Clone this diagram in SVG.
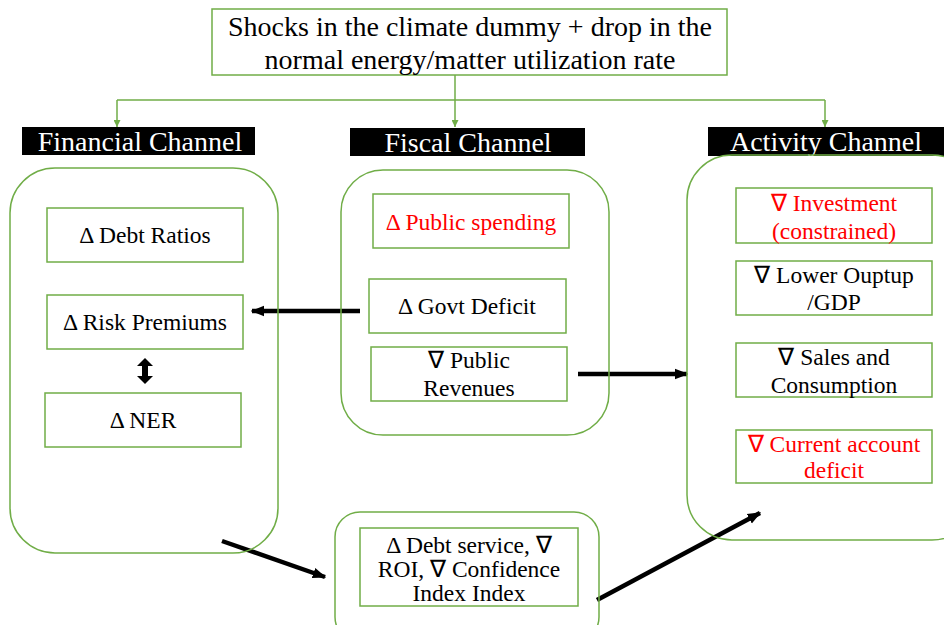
<svg xmlns="http://www.w3.org/2000/svg" width="944" height="625" viewBox="0 0 944 625">
<defs>
<style>
.t{font-family:'Liberation Serif',serif;fill:#000;text-anchor:middle;font-size:23.5px}
.big{font-size:28px}
.r{fill:#ff0000}
.box{fill:#fff;stroke:#70AD47;stroke-width:1.5}
.cont{fill:none;stroke:#70AD47;stroke-width:1.5}
.lab{fill:#000}
.lt{font-family:'Liberation Serif',serif;fill:#fff;text-anchor:middle;font-size:28px}
.g{stroke:#70AD47;stroke-width:1.5;fill:none}
.k{stroke:#000;stroke-width:4.5;fill:none}
</style>
<marker id="ga" viewBox="0 0 10 10" refX="10" refY="5" markerWidth="7" markerHeight="7" markerUnits="userSpaceOnUse" orient="auto"><path d="M0,0 L10,5 L0,10 z" fill="#70AD47"/></marker>
<marker id="ka" viewBox="0 0 10 10" refX="9" refY="5" markerWidth="3" markerHeight="3" orient="auto"><path d="M0,1 L10,5 L0,9 z" fill="#000"/></marker>
</defs>
<rect width="944" height="625" fill="#fff"/>

<g id="connectors">
<path class="g" d="M455,75 V127" marker-end="url(#ga)"/>
<path class="g" d="M117,100 H825"/>
<path class="g" d="M117,100 V127" marker-end="url(#ga)"/>
<path class="g" d="M825,100 V127" marker-end="url(#ga)"/>
<path class="k" d="M360,311 H252" marker-end="url(#ka)"/>
<path class="k" d="M578,374 H687" marker-end="url(#ka)"/>
<path class="k" d="M222,541 L325,577" marker-end="url(#ka)"/>
<path class="k" d="M597,600 L760,513" marker-end="url(#ka)"/>
<g id="dbl">
<path d="M145,358 L137,366 H142 V376 H137 L145,384 L153,376 H148 V366 H153 Z" fill="#000"/>
</g>
</g>

<g id="top">
<rect class="box" x="212" y="9" width="515" height="66"/>
<text class="t big" x="470" y="36">Shocks in the climate dummy + drop in the</text>
<text class="t big" x="470" y="69">normal energy/matter utilization rate</text>
</g>

<g id="financial-label">
<rect class="lab" x="22" y="127" width="233" height="28"/>
<text class="lt" x="140" y="151">Financial Channel</text>
</g>
<g id="fiscal-label">
<rect class="lab" x="350" y="128" width="235" height="28"/>
<text class="lt" x="468" y="152">Fiscal Channel</text>
</g>
<g id="activity-label">
<rect class="lab" x="708" y="127" width="236" height="29"/>
<text class="lt" x="826" y="151">Activity Channel</text>
</g>

<g id="financial">
<rect class="cont" x="10" y="168" width="268" height="385" rx="45"/>
<g id="debt-ratios"><rect class="box" x="47" y="208" width="196" height="54"/><text class="t" x="145" y="243">Δ Debt Ratios</text></g>
<g id="risk-premiums"><rect class="box" x="47" y="295" width="196" height="54"/><text class="t" x="145" y="330">Δ Risk Premiums</text></g>
<g id="ner"><rect class="box" x="45" y="393" width="196" height="54"/><text class="t" x="143" y="428">Δ NER</text></g>
</g>

<g id="fiscal">
<rect class="cont" x="341" y="170" width="268" height="265" rx="42"/>
<g id="public-spending"><rect class="box" x="373" y="194" width="196" height="54"/><text class="t r" x="471" y="230">Δ Public spending</text></g>
<g id="govt-deficit"><rect class="box" x="369" y="279" width="197" height="54"/><text class="t" x="467" y="314">Δ Govt Deficit</text></g>
<g id="public-revenues"><rect class="box" x="371" y="347" width="196" height="54"/><text class="t" x="469" y="368">∇ Public</text><text class="t" x="469" y="396">Revenues</text></g>
</g>

<g id="activity">
<rect class="cont" x="687" y="155" width="290" height="385" rx="45"/>
<g id="investment"><rect class="box" x="736" y="188" width="196" height="55"/><text class="t r" x="834" y="211">∇ Investment</text><text class="t r" x="834" y="239">(constrained)</text></g>
<g id="output"><rect class="box" x="736" y="261" width="196" height="54"/><text class="t" x="834" y="283">∇ Lower Ouptup</text><text class="t" x="834" y="310">/GDP</text></g>
<g id="sales"><rect class="box" x="736" y="343" width="196" height="54"/><text class="t" x="834" y="365">∇ Sales and</text><text class="t" x="834" y="393">Consumption</text></g>
<g id="current-account"><rect class="box" x="736" y="430" width="196" height="53"/><text class="t r" x="834" y="452">∇ Current account</text><text class="t r" x="834" y="478">deficit</text></g>
</g>

<g id="bottom">
<rect class="cont" x="335" y="512" width="264" height="130" rx="25"/>
<g id="debt-service"><rect class="box" x="360" y="528" width="218" height="78"/>
<text class="t" x="469" y="553">Δ Debt service, ∇</text>
<text class="t" x="469" y="577">ROI, ∇ Confidence</text>
<text class="t" x="469" y="601">Index Index</text></g>
</g>
</svg>
